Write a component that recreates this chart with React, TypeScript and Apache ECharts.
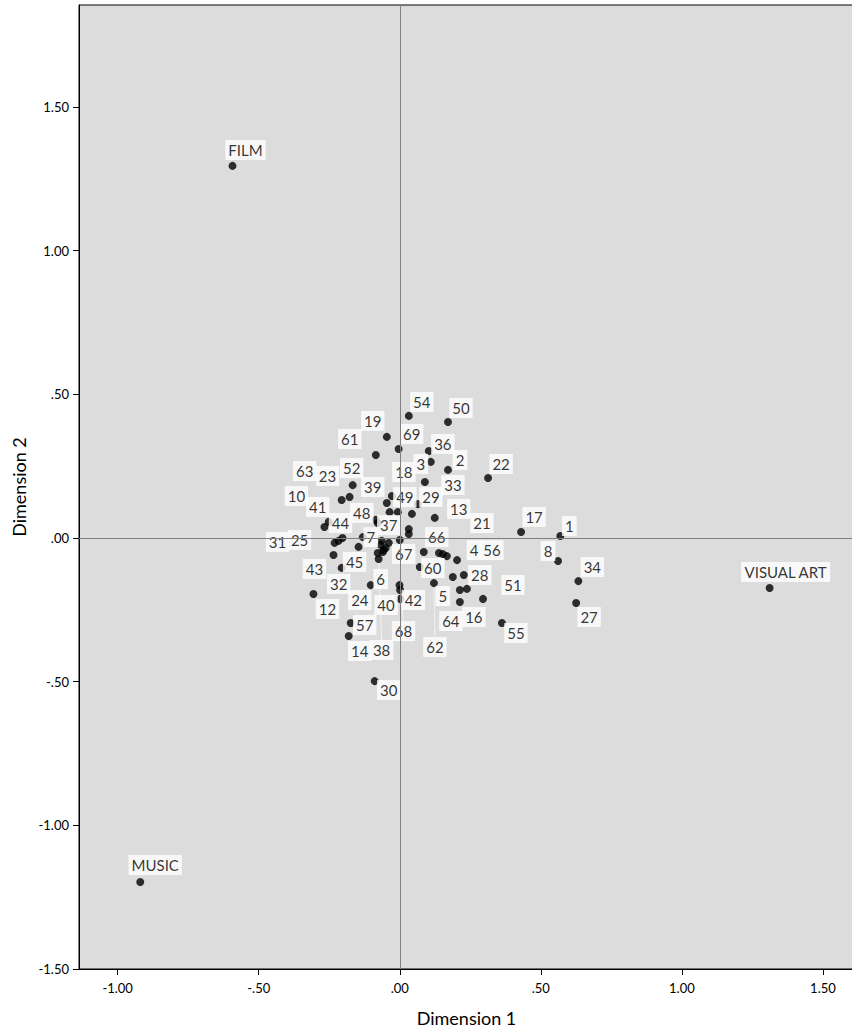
import React, { useEffect, useRef } from "react";
import * as echarts from "echarts";

// Case identifiers and their object scores on the two dimensions
const caseIds = [
  1, 2, 3, 4, 5, 6, 7, 8, 9, 10, 11, 12, 13, 14, 15, 16, 17, 18, 19, 20, 21, 22, 23,
  24, 25, 26, 27, 28, 29, 30, 31, 32, 33, 34, 35, 36, 37, 38, 39, 40, 41, 42, 43, 44,
  45, 46, 47, 48, 49, 50, 51, 52, 53, 54, 55, 56, 57, 58, 59, 60, 61, 62, 63, 64, 65,
  66, 67, 68, 69,
];

const caseDim1 = [
  0.569, 0.171, 0.11, 0.203, 0.188, -0.103, -0.131, 0.561, -0.036, -0.267, -0.007,
  -0.306, 0.124, -0.181, 0.0, 0.213, 0.43, -0.028, -0.046, -0.05, 0.153, 0.313,
  -0.178, -0.06, -0.231, 0.032, 0.625, 0.227, 0.043, -0.089, -0.217, -0.206, 0.089,
  0.633, 0.032, 0.103, -0.078, -0.075, -0.046, 0.001, -0.252, 0.002, -0.235, -0.203,
  -0.146, -0.068, 0.139, -0.085, 0.064, 0.171, 0.295, -0.167, 0.238, 0.032, 0.362,
  0.167, -0.174, -0.039, -0.078, 0.071, -0.085, 0.121, -0.206, 0.213, -0.064, 0.085,
  -0.057, -0.001, -0.004,
];

const caseDim2 = [
  0.007, 0.237, 0.265, -0.077, -0.136, -0.164, 0.003, -0.08, 0.09, 0.038, 0.09,
  -0.195, 0.07, -0.341, -0.007, -0.223, 0.021, 0.146, 0.352, -0.035, -0.056, 0.209,
  0.143, -0.049, -0.017, 0.031, -0.226, -0.129, 0.084, -0.498, -0.01, -0.104, 0.195,
  -0.15, 0.014, 0.303, 0.052, -0.073, 0.122, -0.181, 0.056, -0.212, -0.059, 0.0,
  -0.031, -0.024, -0.052, 0.063, 0.118, 0.404, -0.212, 0.184, -0.177, 0.425, -0.296,
  -0.063, -0.296, -0.017, -0.052, -0.101, 0.289, -0.157, 0.132, -0.181, -0.01, -0.049,
  -0.042, -0.164, 0.31,
];

// Cases whose labels are suppressed because they collide with neighbours
const hiddenLabelIds = [9, 11, 15, 20, 26, 35, 46, 47, 53, 58, 59, 65];

// Category points
const categoryNames = ["FILM", "MUSIC", "VISUAL ART"];
const categoryDim1 = [-0.593, -0.92, 1.311];
const categoryDim2 = [1.295, -1.197, -0.174];

// Axis ticks
const xTicks = [-1, -0.5, 0, 0.5, 1, 1.5];
const yTicks = [-1.5, -1, -0.5, 0, 0.5, 1, 1.5];

// Label placement (pixel offsets of the label centre from its point)
const labelOffsets: Record<string, [number, number]> = {
  "1": [9, -10], "2": [12, -10], "3": [-10, 2], "4": [17, -10], "5": [-10, 19],
  "6": [10, -6], "7": [8, 0], "8": [-10, -10], "10": [-28, -31], "12": [14, 15],
  "13": [24, -9], "14": [11, 15], "16": [14, 15], "17": [13, -15], "18": [12, -24],
  "19": [-14, -16], "21": [39, -31], "22": [13, -14], "23": [-22, -21], "24": [-23, 48],
  "25": [-35, -3], "27": [13, 14], "28": [16, 0], "29": [19, -17], "30": [14, 9],
  "31": [-61, 1], "32": [-3, 16], "33": [28, 3], "34": [14, -14], "36": [14, -7],
  "37": [11, 2], "38": [3, 91], "39": [-14, -16], "40": [-14, 15], "41": [-11, -15],
  "42": [13, 1], "43": [-19, 14], "44": [-2, -15], "45": [-4, 15], "48": [-14, -7],
  "49": [-13, -7], "50": [13, -14], "51": [30, -14], "52": [-1, -17], "54": [13, -14],
  "55": [14, 10], "56": [45, -6], "57": [14, 2], "60": [13, 1], "61": [-26, -16],
  "62": [1, 64], "63": [-37, -29], "64": [-9, 31], "66": [13, -15], "67": [20, 4],
  "68": [4, 46], "69": [13, -15],
  FILM: [13, -16], MUSIC: [15, -17], "VISUAL ART": [16, -16],
};

const leaderLabels = ["62", "68", "38"];

const fmt = (v: number) => {
  const s = Math.abs(v).toFixed(2).replace(/^0/, "");
  return (v < 0 ? "-" : "") + s;
};

export default function App() {
  const ref = useRef<HTMLDivElement>(null);

  useEffect(() => {
    if (!ref.current) return;
    const chart = echarts.init(ref.current, undefined, { renderer: "svg" });

    const casePoints = caseIds.map((id, i) => {
      const name = String(id);
      return {
        name,
        value: [caseDim1[i], caseDim2[i]],
        label: {
          show: !hiddenLabelIds.includes(id),
          offset: labelOffsets[name] ?? [13, -14],
        },
        labelLine: { show: leaderLabels.includes(name) },
      };
    });

    const categoryPoints = categoryNames.map((name, i) => ({
      name,
      value: [categoryDim1[i], categoryDim2[i]],
      label: { show: true, offset: labelOffsets[name] ?? [13, -14] },
    }));

    const axisFont = { fontFamily: "Lato", fontSize: 13, color: "#000" };

    chart.setOption({
      animation: false,
      backgroundColor: "#ffffff",
      grid: {
        left: 79,
        top: 5,
        right: -2,
        bottom: 59,
        show: true,
        backgroundColor: "#dcdcdc",
        borderColor: "#000",
        borderWidth: 1,
        outerBoundsMode: "none",
      },
      xAxis: {
        type: "value",
        min: -1.137,
        max: 1.61,
        name: "Dimension 1",
        nameLocation: "middle",
        nameGap: 40,
        nameTextStyle: { fontFamily: "Lato", fontSize: 18, color: "#000" },
        axisLine: { show: true, onZero: false, lineStyle: { color: "#000", width: 1 } },
        axisTick: { show: true, length: 6, customValues: xTicks, lineStyle: { color: "#000" } },
        axisLabel: { ...axisFont, margin: 12, customValues: xTicks, formatter: fmt },
        splitLine: { show: false },
      },
      yAxis: {
        type: "value",
        min: -1.5,
        max: 1.855,
        name: "Dimension 2",
        nameLocation: "middle",
        nameGap: 48,
        nameTextStyle: { fontFamily: "Lato", fontSize: 18, color: "#000" },
        axisLine: { show: true, onZero: false, lineStyle: { color: "#000", width: 1 } },
        axisTick: { show: true, length: 6, customValues: yTicks, lineStyle: { color: "#000" } },
        axisLabel: { ...axisFont, margin: 10, customValues: yTicks, formatter: fmt },
        splitLine: { show: false },
      },
      series: [
        {
          type: "scatter",
          data: [],
          z: 1,
          silent: true,
          markLine: {
            silent: true,
            symbol: "none",
            label: { show: false },
            lineStyle: { color: "#808080", width: 1, type: "solid" },
            data: [{ xAxis: 0 }, { yAxis: 0 }],
          },
        },
        {
          type: "scatter",
          z: 3,
          symbol: "circle",
          symbolSize: 8,
          itemStyle: { color: "#000" },
          label: {
            show: true,
            position: "inside",
            formatter: "{b}",
            fontFamily: "Lato",
            fontSize: 15,
            color: "#000",
            backgroundColor: "#ffffff",
            padding: [3, 3, 2, 3],
            align: "center",
            verticalAlign: "middle",
          },
          labelLine: { show: false, lineStyle: { color: "#f2f2f2", width: 1 } },
          data: [...casePoints, ...categoryPoints],
        },
      ],
    });

    return () => chart.dispose();
  }, []);

  return (
    <div
      ref={ref}
      style={{ position: "absolute", left: 0, top: 0, width: 852, height: 1028 }}
    />
  );
}
